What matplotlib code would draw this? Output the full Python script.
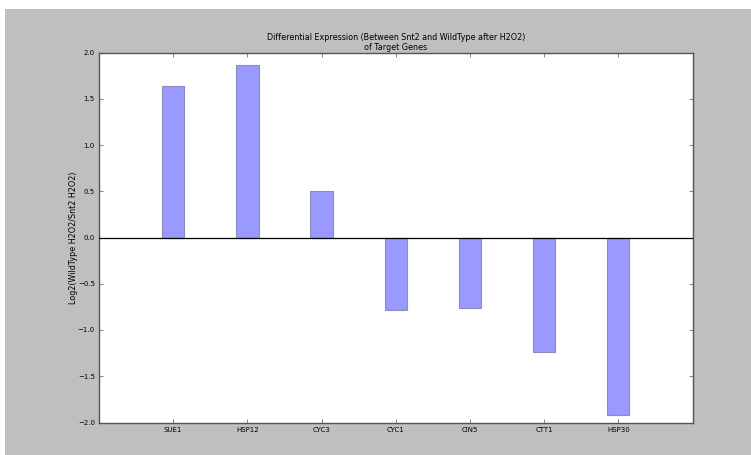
import matplotlib
matplotlib.use("Agg")
import matplotlib.pyplot as plt
from matplotlib.patches import Rectangle

genes = ["SUE1", "HSP12", "CYC3", "CYC1", "CIN5", "CTT1", "HSP30"]
values = [1.64, 1.86, 0.50, -0.78, -0.76, -1.24, -1.92]
yticks = [-2.0, -1.5, -1.0, -0.5, 0.0, 0.5, 1.0, 1.5, 2.0]

W, H = 751, 455
fig = plt.figure(figsize=(W / 100, H / 100), dpi=100, facecolor="white")
fig.patches.append(Rectangle((5 / W, 0), 1, (H - 9) / H, transform=fig.transFigure,
                             facecolor="#bfbfbf", edgecolor="none", zorder=-10))

left, right, top, bottom = 99, 692.5, 52.5, 422.5
ax = fig.add_axes([left / W, 1 - bottom / H, (right - left) / W, (bottom - top) / H])
ax.set_facecolor("white")

x = list(range(len(genes)))
ax.bar(x, values, width=0.3, color=(0.6, 0.6, 1.0), edgecolor=(0.55, 0.55, 0.75),
       linewidth=0.8, zorder=2)
ax.axhline(0, color="black", linewidth=0.9, zorder=3)

ax.set_xlim(-1, 7)
ax.set_ylim(-2, 2)
ax.set_xticks(x)
ax.set_xticklabels(genes, fontsize=5)
ax.set_yticks(yticks)
ax.set_yticklabels([f"{t:.1f}".replace("-", "\u2212") for t in yticks], fontsize=5)
ax.tick_params(direction="in", top=True, right=True, length=3, width=0.5,
               color="#555555", pad=3)
for s in ax.spines.values():
    s.set_color("#555555")
    s.set_linewidth(1.0)

ax.set_ylabel("Log2(WildType H2O2/Snt2 H2O2)", fontsize=5.8, labelpad=-0.5)
ax.set_title("Differential Expression (Between Snt2 and WildType after H2O2)\nof Target Genes",
             fontsize=5.8, pad=2, linespacing=1.1)

fig.savefig("out.png", dpi=100, facecolor=fig.get_facecolor())
